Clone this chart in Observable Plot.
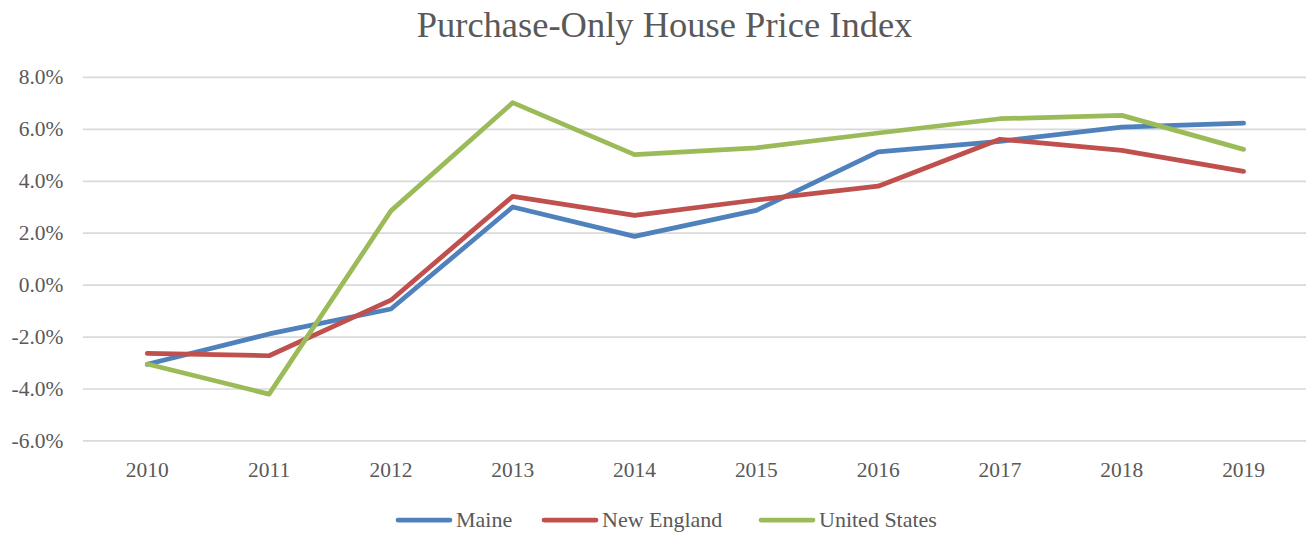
<!DOCTYPE html>
<html>
<head>
<meta charset="utf-8">
<script src="https://cdn.jsdelivr.net/npm/d3@7"></script>
<script src="https://cdn.jsdelivr.net/npm/@observablehq/plot@0.6"></script>
<style>
  html, body { margin: 0; padding: 0; background: #fff; }
  body { position: relative; width: 1306px; height: 535px; overflow: hidden; font-family: "Liberation Serif", serif; color: #595959; }
  #title { position: absolute; left: 0; top: 0; width: 1306px; height: 50px; line-height: 50px; text-align: center; font-size: 36.5px; color: #595959; padding-left: 23px; box-sizing: border-box; white-space: nowrap; }
  #chart { position: absolute; left: 0; top: 50px; }
  #chart svg text { font-family: "Liberation Serif", serif !important; font-size: 21.5px !important; fill: #595959; }
  #legend { position: absolute; left: 0; top: 507px; width: 1306px; height: 28px; font-size: 22px; color: #595959; }
  .item { position: absolute; top: 0; display: flex; align-items: center; white-space: nowrap; }
  .item svg { margin-right: 3px; display: block; }
</style>
</head>
<body>
<div id="title">Purchase-Only House Price Index</div>
<div id="chart"></div>
<div id="legend"></div>
<script>
const years = ["2010","2011","2012","2013","2014","2015","2016","2017","2018","2019"];
const seriesNames = ["Maine", "New England", "United States"];
const seriesColors = ["#4f81bd", "#c0504d", "#9bbb59"];
const maine = [-3.05, -1.88, -0.92, 3.01, 1.88, 2.88, 5.13, 5.54, 6.09, 6.24];
const newEngland = [-2.63, -2.72, -0.58, 3.42, 2.69, 3.28, 3.81, 5.62, 5.19, 4.38];
const unitedStates = [-3.04, -4.20, 2.86, 7.03, 5.03, 5.29, 5.86, 6.41, 6.54, 5.23];
const yTicks = [-6, -4, -2, 0, 2, 4, 6, 8];

const allValues = [maine, newEngland, unitedStates];
const data = [];
seriesNames.forEach((name, i) => {
  years.forEach((yr, j) => data.push({year: yr, value: allValues[i][j], series: name}));
});

const fmt = d => d.toFixed(1) + "%";

const chart = Plot.plot({
  width: 1308,
  height: 445,
  marginLeft: 83,
  marginRight: 0,
  marginTop: 27,
  marginBottom: 54,
  style: { fontFamily: "Liberation Serif, serif", fontSize: "21.5px", color: "#595959", background: "#fff", overflow: "visible" },
  x: { type: "point", domain: years, padding: 0.5, label: null },
  y: { domain: [-6, 8], ticks: yTicks, label: null },
  color: { domain: seriesNames, range: seriesColors },
  marks: [
    Plot.ruleY(yTicks, { stroke: "#d9d9d9", strokeWidth: 1.7 }),
    Plot.axisY({ ticks: yTicks, tickFormat: fmt, tickSize: 0, tickPadding: 20, label: null, fill: "#595959" }),
    Plot.axisX({ tickSize: 0, tickPadding: 21, label: null, fill: "#595959" }),
    Plot.line(data, { x: "year", y: "value", z: "series", stroke: "series", strokeWidth: 4.75, strokeLinecap: "round", strokeLinejoin: "round" })
  ]
});
document.getElementById("chart").appendChild(chart);

const legendLeft = [395, 541, 758];
const legend = document.getElementById("legend");
seriesNames.forEach((name, i) => {
  const item = document.createElement("div");
  item.className = "item";
  item.style.left = legendLeft[i] + "px";
  item.innerHTML = `<svg width="58" height="10"><line x1="3" y1="5" x2="55" y2="5" stroke="${seriesColors[i]}" stroke-width="4.75" stroke-linecap="round"/></svg><span>${name}</span>`;
  legend.appendChild(item);
});
</script>
</body>
</html>
